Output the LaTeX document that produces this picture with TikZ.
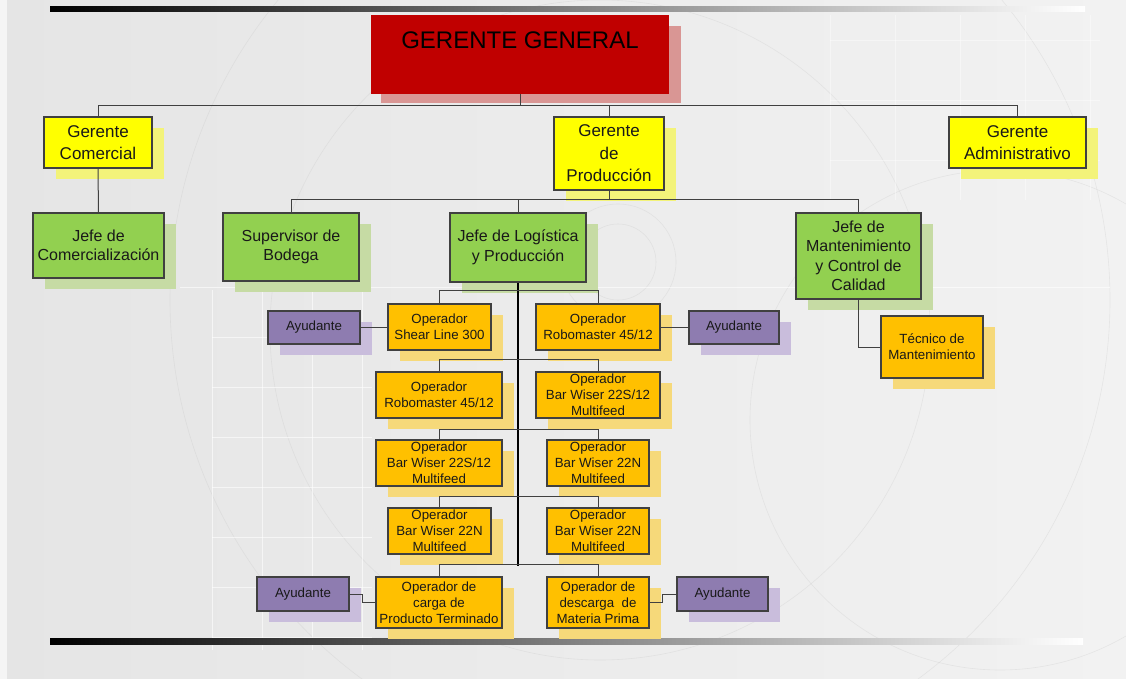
\documentclass[tikz,border=0pt]{standalone}
\usepackage{fontspec}
\setmainfont{Liberation Sans}
\usetikzlibrary{calc}
\definecolor{bgL}{HTML}{E5E5E5}
\definecolor{bgR}{HTML}{F2F2F2}
\definecolor{lineC}{HTML}{404040}
\definecolor{ggred}{HTML}{C00000}
\definecolor{rshd}{HTML}{D99694}
\definecolor{yfill}{HTML}{FFFF00}
\definecolor{yshd}{HTML}{F3F37A}
\definecolor{gfill}{HTML}{92D050}
\definecolor{gshd}{HTML}{C6DBA4}
\definecolor{ofill}{HTML}{FFC000}
\definecolor{oshd}{HTML}{F6D97A}
\definecolor{pfill}{HTML}{8E7CB0}
\definecolor{pshd}{HTML}{C9BDDC}
\pgfdeclarelayer{bg}
\pgfdeclarelayer{shad}
\pgfdeclarelayer{lines}
\pgfsetlayers{bg,shad,lines,main}
\tikzset{
  basebox/.style={draw=lineC, line width=1.1pt, inner sep=0pt, align=center, text=black!90},
  rbox/.style={basebox, fill=ggred, draw=black!80!ggred, double=ggred, double distance=1.4pt, line width=0.7pt},
  ybox/.style={basebox, fill=yfill},
  gbox/.style={basebox, fill=gfill},
  obox/.style={basebox, fill=ofill},
  pbox/.style={basebox, fill=pfill},
  fA/.style={font=\fontsize{17}{22.5}\selectfont},
  fB/.style={font=\fontsize{16}{19.5}\selectfont},
  fC/.style={font=\fontsize{13.3}{15.8}\selectfont},
  conn/.style={draw=lineC, line width=1pt},
  trunk/.style={draw=black, line width=1.5pt},
  deco/.style={white, line width=0.9pt, opacity=0.6},
  arcdeco/.style={black!25, line width=0.6pt, opacity=0.25}
}
\newcommand\orgnode[8]{%
  \node[#2box,#7,minimum width={#5pt-#3pt},minimum height={#6pt-#4pt}] (#1) at ({(#3+#5)/2},{(#4+#6)/2}) {#8};
  \begin{pgfonlayer}{shad}
    \fill[#2shd] ({#3+12},{#4+11}) rectangle ({#5+12},{#6+11});
  \end{pgfonlayer}}
\begin{document}
\begin{tikzpicture}[x=1pt,y=-1pt]
\useasboundingbox (0,0) rectangle (1126,679);
\begin{pgfonlayer}{bg}
  \shade[left color=bgL, right color=bgR] (0,0) rectangle (1126,679);
  \fill[white!60!bgL] (0,0) rectangle (7,679);
  % faint background decoration
  \draw[arcdeco] (618,262) circle (38);
  \draw[arcdeco] (618,262) circle (58);
  \draw[arcdeco] (600,330) circle (330);
  \draw[arcdeco] (640,300) circle (470);
  \draw[arcdeco] (1000,420) circle (250);
  \draw[deco] (180,287) -- (1110,287);
  \foreach \xx in {212,262,312,362} \draw[deco] (\xx,290) -- (\xx,650);
  \foreach \yy in {337,387,437,487,537,587,637} \draw[deco] (212,\yy) -- (372,\yy);
  \foreach \xx in {830,895,960,1025,1090} \draw[deco, opacity=0.4] (\xx,15) -- (\xx,200);
  \foreach \yy in {40,100,160} \draw[deco, opacity=0.4] (830,\yy) -- (1100,\yy);
  % gradient bars
  \shade[left color=black, right color=white] (50,7) rectangle (1085,12);
  \shade[left color=black, right color=white] (50,638) rectangle (1083,644);
\end{pgfonlayer}

% top
\node[rbox, minimum width=296pt, minimum height=77pt] (gg) at (520,54.5) {};
\begin{pgfonlayer}{shad}
  \fill[rshd] (381,26) rectangle (681,103);
\end{pgfonlayer}
\node[font=\fontsize{24}{28}\selectfont, text=black, inner sep=0pt] (ggt) at (520,40) {GERENTE GENERAL};

\orgnode{gc}{y}{44}{117}{152}{168}{fA}{Gerente\\Comercial}
\orgnode{gp}{y}{554}{117}{664}{190}{fA}{Gerente\\de\\Producción}
\orgnode{ga}{y}{949}{117}{1086}{168}{fA}{Gerente\\Administrativo}

\orgnode{jc}{g}{33}{213}{164}{278}{fB}{Jefe de\\Comercialización}
\orgnode{sb}{g}{223}{213}{359}{281}{fB}{Supervisor de\\Bodega}
\orgnode{jl}{g}{450}{213}{586}{282}{fB}{Jefe de Logística\\y Producción}
\orgnode{jm}{g}{796}{213}{921}{299}{fB}{Jefe de\\Mantenimiento\\y Control de\\Calidad}
\orgnode{tm}{o}{881}{316}{983}{378}{fC}{Técnico de\\Mantenimiento}

\orgnode{o1}{o}{388}{304}{491}{350}{fC}{Operador\\Shear Line 300}
\orgnode{o2}{o}{536}{304}{660}{350}{fC}{Operador\\Robomaster 45/12}
\orgnode{a1}{p}{268}{311}{360}{344}{fC}{Ayudante}
\orgnode{a2}{p}{689}{311}{779}{344}{fC}{Ayudante}
\orgnode{o3}{o}{376}{372}{502}{418}{fC}{Operador\\Robomaster 45/12}
\orgnode{o4}{o}{536}{372}{660}{418}{fC}{Operador\\Bar Wiser 22S/12\\Multifeed}
\orgnode{o5}{o}{376}{440}{502}{486}{fC}{Operador\\Bar Wiser 22S/12\\Multifeed}
\orgnode{o6}{o}{547}{440}{649}{486}{fC}{Operador\\Bar Wiser 22N\\Multifeed}
\orgnode{o7}{o}{388}{508}{491}{554}{fC}{Operador\\Bar Wiser 22N\\Multifeed}
\orgnode{o8}{o}{547}{508}{649}{554}{fC}{Operador\\Bar Wiser 22N\\Multifeed}
\orgnode{o9}{o}{376}{577}{502}{628}{fC}{Operador de\\carga de\\Producto Terminado}
\orgnode{o10}{o}{547}{577}{649}{628}{fC}{Operador de\\descarga\ \ de\\Materia Prima}
\orgnode{a3}{p}{257}{577}{349}{611}{fC}{Ayudante}
\orgnode{a4}{p}{677}{577}{768}{611}{fC}{Ayudante}

\begin{pgfonlayer}{lines}
  % level 1
  \coordinate (b1) at ($(gg.south)+(0,12)$);
  \draw[conn] (gg.south) -- (b1);
  \draw[conn] (gc.north) |- (b1) -| (ga.north);
  \draw[conn] (b1) -| (gp.north);
  \draw[conn] (gc.south) -- (jc.north);
  % level 2
  \coordinate (b2) at ($(gp.south)+(0,9)$);
  \draw[conn] (gp.south) -- (b2);
  \draw[conn] (sb.north) |- (b2) -| (jm.north);
  \draw[conn] (b2) -| (jl.north);
  \draw[conn] (jm.south) |- (tm.west);
  % trunk
  \coordinate (tend) at ($(jl.south)+(0,283)$);
  \draw[trunk] (jl.south) -- (tend);
  \draw[conn] (o1.north) -- ++(0,-13) -| (o2.north);
  \draw[conn] (o3.north) -- ++(0,-12) -| (o4.north);
  \draw[conn] (o5.north) -- ++(0,-10) -| (o6.north);
  \draw[conn] (o7.north) -- ++(0,-11) -| (o8.north);
  \draw[conn] (o9.north) -- ++(0,-12) -| (o10.north);
  % helpers
  \draw[conn] (a1.east) -- (a1.east -| o1.west);
  \draw[conn] (o2.east) -- (o2.east -| a2.west);
  \draw[conn] (a3.east) -- ++(13,0) |- (o9.west);
  \draw[conn] (o10.east) -- ++(13,0) |- (a4.west);
\end{pgfonlayer}
\end{tikzpicture}
\end{document}
